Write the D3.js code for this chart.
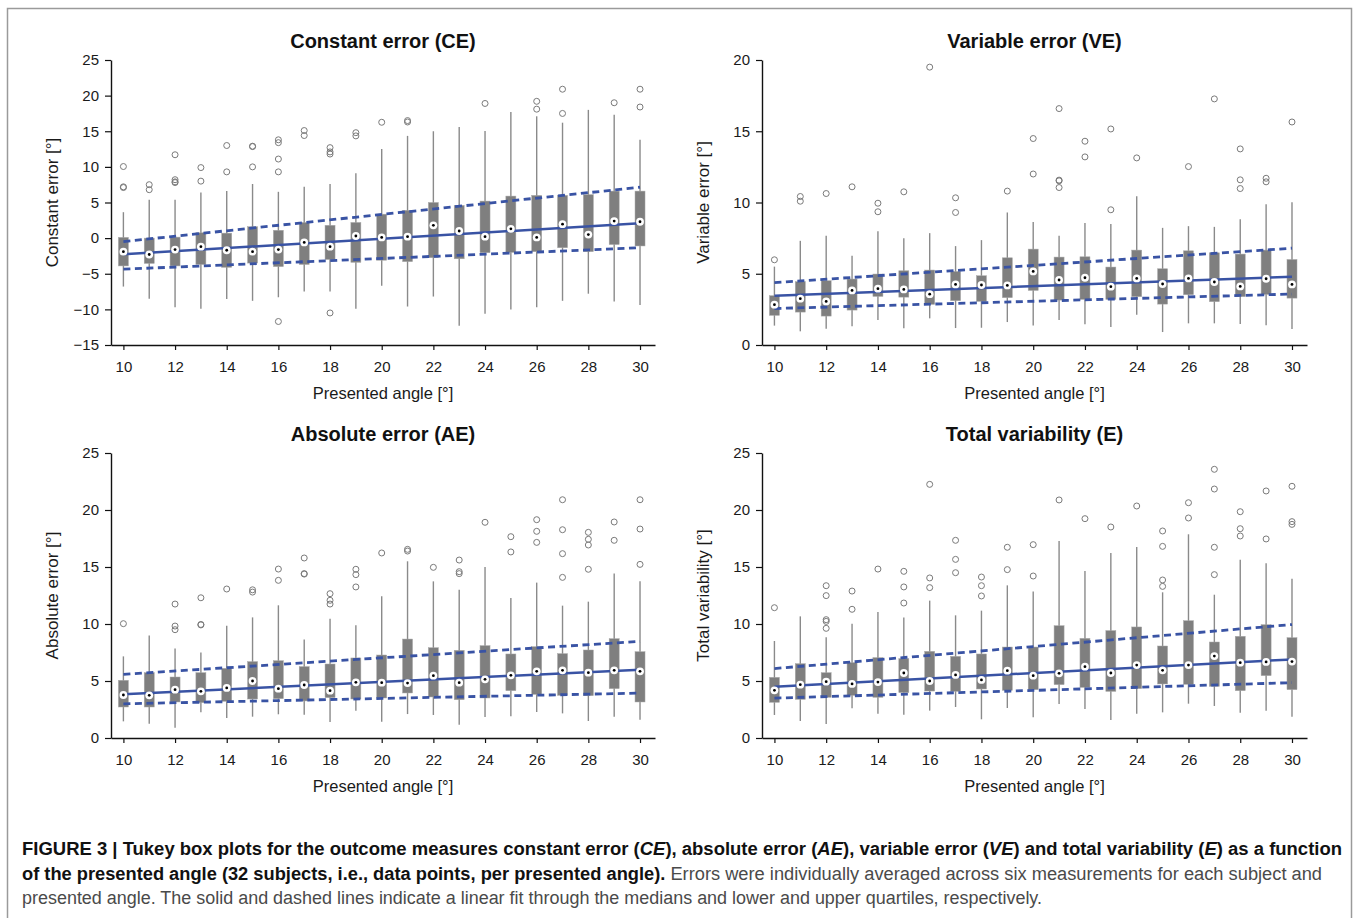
<!DOCTYPE html>
<html>
<head>
<meta charset="utf-8">
<script src="https://cdn.jsdelivr.net/npm/d3@7"></script>
<style>
body { margin: 0; background: #fff; }
svg { display: block; font-family: 'Liberation Sans', Arial, Helvetica, sans-serif; }
</style>
</head>
<body>
<svg width="1358" height="918"></svg>
<script>
// presented angles (categories) and x tick labels
const angles = [10, 11, 12, 13, 14, 15, 16, 17, 18, 19, 20, 21, 22, 23, 24, 25, 26, 27, 28, 29, 30];
const xTicks = [10, 12, 14, 16, 18, 20, 22, 24, 26, 28, 30];

// Constant error (CE)
const ceLow = [-6.8, -8.5, -9.7, -9.9, -8.55, -8.8, -8.3, -7.5, -7.5, -9.9, -6.7, -9.6, -8.2, -12.3, -10.6, -10.0, -9.7, -8.8, -7.8, -8.9, -9.4];
const ceQ1 = [-3.9, -3.55, -3.9, -3.7, -4.1, -3.5, -4.0, -3.7, -3.0, -3.4, -3.1, -3.3, -2.75, -2.9, -2.05, -2.0, -1.9, -1.35, -1.9, -0.9, -1.1];
const ceMed = [-1.9, -2.3, -1.6, -1.2, -1.7, -1.9, -1.6, -0.6, -1.2, 0.3, 0.1, 0.2, 1.8, 1.0, 0.2, 1.3, 0.1, 1.96, 0.5, 2.4, 2.3];
const ceQ3 = [0.1, 0.0, 0.14, 0.75, 0.7, 1.6, 1.1, 2.2, 1.8, 2.2, 3.36, 3.9, 5.0, 4.6, 5.2, 5.9, 6.0, 6.0, 6.1, 6.6, 6.6];
const ceHigh = [3.64, 5.4, 5.4, 6.4, 6.6, 7.6, 6.5, 7.2, 7.6, 9.1, 12.5, 14.35, 15.0, 15.6, 15.05, 17.7, 17.1, 16.2, 18.0, 17.3, 13.8];
const ceOut = [[10.05, 7.2, 7.1], [7.5, 6.8], [11.7, 8.2, 7.9, 7.8], [9.9, 8.0], [13.0, 9.3], [12.9, 12.85, 10.0],
    [13.8, 13.4, 11.1, 9.3, -11.7], [15.1, 14.4], [12.7, 12.1, 11.8, -10.5], [14.8, 14.35], [16.26], [16.5, 16.3],
    [], [], [18.9], [], [19.2, 18.1], [20.9, 17.5], [], [19.0], [20.9, 18.4]];
const ceTicks = [-15, -10, -5, 0, 5, 10, 15, 20, 25];

// Variable error (VE)
const veLow = [1.36, 0.96, 1.14, 1.31, 1.75, 1.17, 1.87, 1.19, 1.21, 1.61, 1.36, 1.75, 1.45, 1.26, 2.13, 0.91, 1.52, 1.52, 1.47, 1.38, 1.12];
const veQ1 = [2.08, 2.31, 2.03, 2.45, 3.41, 3.36, 2.85, 3.11, 3.06, 3.32, 3.83, 3.15, 3.2, 3.2, 3.39, 2.87, 3.53, 3.04, 3.39, 3.55, 3.29];
const veMed = [2.83, 3.25, 3.06, 3.83, 3.95, 3.9, 3.57, 4.25, 4.21, 4.18, 5.16, 4.56, 4.72, 4.09, 4.67, 4.28, 4.67, 4.42, 4.11, 4.65, 4.25];
const veQ3 = [3.46, 4.44, 4.51, 4.63, 4.98, 5.21, 5.26, 5.16, 4.86, 6.12, 6.73, 6.17, 6.19, 5.47, 6.66, 5.35, 6.61, 6.47, 6.38, 6.66, 6.0];
const veHigh = [5.5, 7.31, 7.66, 6.26, 7.99, 7.5, 7.85, 6.94, 7.36, 9.3, 8.64, 7.66, 8.57, 8.5, 10.44, 8.22, 8.34, 8.29, 8.83, 9.88, 10.02];
const veOut = [[5.98], [10.42, 10.09], [10.63], [11.1], [9.95, 9.35], [10.75], [19.5], [10.33, 9.3], [], [10.8],
    [14.49, 12.0], [16.59, 11.57, 11.52, 11.05], [14.3, 13.2], [15.16, 9.49], [13.13], [], [12.52], [17.27],
    [13.76, 11.59, 10.98], [11.7, 11.45], [15.65]];
const veTicks = [0, 5, 10, 15, 20];

// Absolute error (AE)
const aeLow = [1.46, 1.26, 0.91, 2.25, 1.75, 1.87, 2.08, 2.05, 1.4, 2.4, 1.43, 2.1, 2.02, 1.17, 1.84, 1.9, 2.28, 2.16, 1.49, 1.87, 1.61];
const aeQ1 = [2.72, 2.72, 3.16, 3.1, 3.22, 3.42, 3.45, 3.25, 3.54, 3.42, 3.51, 3.95, 3.6, 3.36, 3.51, 4.15, 3.83, 3.74, 3.71, 4.33, 3.16];
const aeMed = [3.77, 3.74, 4.24, 4.09, 4.39, 5.0, 4.33, 4.65, 4.15, 4.88, 4.85, 4.82, 5.47, 4.85, 5.15, 5.5, 5.85, 5.94, 5.73, 5.94, 5.85];
const aeQ3 = [5.06, 5.73, 5.35, 5.73, 6.11, 6.7, 6.78, 6.26, 6.49, 7.02, 7.28, 8.68, 7.92, 7.69, 8.1, 7.37, 8.01, 7.4, 7.72, 8.71, 7.57];
const aeHigh = [7.16, 9.0, 7.84, 7.51, 9.85, 10.58, 11.64, 8.65, 10.47, 9.88, 12.43, 15.5, 13.74, 13.01, 15.0, 12.28, 13.63, 11.61, 11.96, 14.44, 13.74];
const aeOut = [[10.03], [], [11.75, 9.82, 9.5], [12.3, 9.96, 9.92], [13.07], [13.0, 12.8], [14.82, 13.83],
    [15.79, 14.42, 14.38], [12.66, 12.08, 11.75], [14.8, 14.33, 13.25], [16.23], [16.55, 16.4], [14.97],
    [15.61, 14.59, 14.42], [18.92], [17.66, 16.32], [19.15, 18.13, 17.16], [20.9, 18.27, 16.17, 14.09],
    [18.04, 17.43, 16.93, 14.8], [18.95, 17.34], [20.9, 18.33, 15.23]];
const aeTicks = [0, 5, 10, 15, 20, 25];

// Total variability (E)
const eLow = [2.02, 1.49, 1.23, 2.6, 2.13, 2.05, 2.4, 2.72, 1.64, 2.63, 1.81, 2.98, 2.54, 1.58, 2.13, 2.25, 3.01, 2.81, 2.22, 2.4, 1.87];
const eQ1 = [3.13, 3.39, 3.57, 3.74, 3.57, 3.98, 4.12, 4.09, 4.3, 4.18, 4.24, 4.68, 4.44, 4.09, 4.33, 4.74, 4.71, 4.53, 4.15, 5.47, 4.24];
const eMed = [4.18, 4.68, 4.94, 4.74, 4.91, 5.7, 5.0, 5.53, 5.09, 5.91, 5.47, 5.67, 6.26, 5.7, 6.4, 5.94, 6.4, 7.19, 6.61, 6.67, 6.7];
const eQ3 = [5.32, 6.52, 5.73, 6.61, 7.05, 6.96, 7.6, 7.16, 7.37, 7.98, 7.98, 9.85, 8.74, 9.42, 9.74, 8.07, 10.29, 8.42, 8.92, 9.94, 8.8];
const eHigh = [8.51, 10.67, 8.83, 10.03, 11.05, 10.58, 12.05, 10.76, 11.17, 13.39, 12.84, 17.28, 14.65, 16.23, 16.75, 12.78, 17.87, 12.57, 15.64, 15.32, 13.98];
const eOut = [[11.43], [], [13.36, 12.49, 10.38, 10.23, 9.62], [12.89, 11.29], [14.82], [14.62, 13.25, 11.84],
    [22.25, 14.04, 13.19], [17.34, 15.67, 14.5], [14.12, 13.36, 12.46], [16.73, 14.77], [16.96, 14.21], [20.88],
    [19.24], [18.51], [20.35], [18.16, 16.81, 13.86, 13.3], [20.64, 19.3], [23.57, 21.84, 16.73, 14.33],
    [19.85, 18.36, 17.72], [21.67, 17.46], [22.08, 18.98, 18.74]];
const eTicks = [0, 5, 10, 15, 20, 25];

const blue = '#3953a4';
const svg = d3.select('svg');

// frame round the figure
svg.append('rect').
    attr('x', 7.5).
    attr('y', 8.5).
    attr('width', 1344).
    attr('height', 940).
    attr('fill', 'none').
    attr('stroke', '#9a9a9a').
    attr('stroke-width', 1.5);

// least squares fit, returns a function of x
const linFit = (xs, ys) => {
    const mx = d3.mean(xs);
    const my = d3.mean(ys);
    let num = 0;
    let den = 0;
    xs.forEach((v, i) => {
        num += (v - mx) * (ys[i] - my);
        den += (v - mx) * (v - mx);
    });
    const b = num / den;
    return v => my + b * (v - mx);
}

const drawPanel = (p) => {
    const x = d3.scaleLinear().domain([9.52, 30.58]).range([p.left, p.right]);
    const y = d3.scaleLinear().domain(p.domain).range([p.bottom, p.top]);
    const g = svg.append('g');

    const xAxis = g.append('g').
        attr('transform', 'translate(0,' + p.bottom + ')').
        call(d3.axisBottom(x).tickValues(xTicks).tickSize(5).tickSizeOuter(0).tickPadding(11).tickFormat(d3.format('d')));
    const yAxis = g.append('g').
        attr('transform', 'translate(' + p.left + ',0)').
        call(d3.axisLeft(y).tickValues(p.ticks).tickSize(6).tickSizeOuter(0).tickPadding(6));
    [xAxis, yAxis].forEach(a => {
        a.attr('font-size', 15).attr('font-family', null);
        a.select('.domain').attr('stroke', '#111').attr('stroke-width', 1.4);
        a.selectAll('.tick line').attr('stroke', '#111').attr('stroke-width', 1.2);
        a.selectAll('.tick text').attr('fill', '#1a1a1a');
    });

    const boxes = angles.map((a, i) => ({
        a: a, low: p.low[i], q1: p.q1[i], med: p.med[i], q3: p.q3[i], high: p.high[i], out: p.out[i]
    }));

    // whiskers
    g.selectAll('.whisker').data(boxes).enter().append('line').
        attr('x1', d => x(d.a)).
        attr('x2', d => x(d.a)).
        attr('y1', d => y(d.low)).
        attr('y2', d => y(d.high)).
        attr('stroke', '#8a8a8a').
        attr('stroke-width', 1.4);

    // boxes
    g.selectAll('.box').data(boxes).enter().append('rect').
        attr('x', d => x(d.a) - 5).
        attr('y', d => y(d.q3)).
        attr('width', 10).
        attr('height', d => y(d.q1) - y(d.q3)).
        attr('fill', '#7f7f7f').
        attr('stroke', '#a8a8a8').
        attr('stroke-width', 0.5);

    // outliers
    const outs = [];
    boxes.forEach(d => d.out.forEach(v => outs.push({ a: d.a, v: v })));
    g.selectAll('.outlier').data(outs).enter().append('circle').
        attr('cx', d => x(d.a)).
        attr('cy', d => y(d.v)).
        attr('r', 3).
        attr('fill', 'none').
        attr('stroke', '#7a7a7a').
        attr('stroke-width', 1);

    // linear fits through q1, median, q3
    const line = d3.line().x(d => x(d[0])).y(d => y(d[1]));
    [[p.q3, '7,4.5'], [p.q1, '7,4.5'], [p.med, null]].forEach(f => {
        const fit = linFit(angles, f[0]);
        g.append('path').
            attr('d', line([[10, fit(10)], [30, fit(30)]])).
            attr('fill', 'none').
            attr('stroke', blue).
            attr('stroke-width', f[1] ? 2.8 : 2.5).
            attr('stroke-dasharray', f[1]);
    });

    // median markers
    g.selectAll('.medOuter').data(boxes).enter().append('circle').
        attr('cx', d => x(d.a)).
        attr('cy', d => y(d.med)).
        attr('r', 3.9).
        attr('fill', '#fff');
    g.selectAll('.medInner').data(boxes).enter().append('circle').
        attr('cx', d => x(d.a)).
        attr('cy', d => y(d.med)).
        attr('r', 1.4).
        attr('fill', '#000');

    // texts
    const cx = (p.left + p.right) / 2;
    g.append('text').
        attr('x', cx).
        attr('y', p.top - 12.5).
        attr('text-anchor', 'middle').
        attr('font-size', 20).
        attr('font-weight', 'bold').
        attr('fill', '#111').
        text(p.title);
    g.append('text').
        attr('x', cx).
        attr('y', p.bottom + 54).
        attr('text-anchor', 'middle').
        attr('font-size', 16.5).
        attr('fill', '#1a1a1a').
        text('Presented angle [°]');
    g.append('text').
        attr('transform', 'translate(' + (p.left - 59) + ',' + ((p.top + p.bottom) / 2) + ') rotate(-90)').
        attr('dy', '0.35em').
        attr('text-anchor', 'middle').
        attr('font-size', 17).
        attr('fill', '#1a1a1a').
        text(p.yLabel);
}

const panels = [
    { title: 'Constant error (CE)', yLabel: 'Constant error [°]', domain: [-15, 25], ticks: ceTicks,
        low: ceLow, q1: ceQ1, med: ceMed, q3: ceQ3, high: ceHigh, out: ceOut, left: 111, right: 655, top: 60, bottom: 345 },
    { title: 'Variable error (VE)', yLabel: 'Variable error [°]', domain: [0, 20], ticks: veTicks,
        low: veLow, q1: veQ1, med: veMed, q3: veQ3, high: veHigh, out: veOut, left: 762, right: 1307, top: 60, bottom: 345 },
    { title: 'Absolute error (AE)', yLabel: 'Absolute error [°]', domain: [0, 25], ticks: aeTicks,
        low: aeLow, q1: aeQ1, med: aeMed, q3: aeQ3, high: aeHigh, out: aeOut, left: 111, right: 655, top: 453, bottom: 738 },
    { title: 'Total variability (E)', yLabel: 'Total variability [°]', domain: [0, 25], ticks: eTicks,
        low: eLow, q1: eQ1, med: eMed, q3: eQ3, high: eHigh, out: eOut, left: 762, right: 1307, top: 453, bottom: 738 }
];

panels.forEach(drawPanel);

// caption
const captionLines = [
    { y: 855, len: 1320, parts: [
        ['FIGURE 3 | Tukey box plots for the outcome measures constant error (', 'b'], ['CE', 'bi'],
        ['), absolute error (', 'b'], ['AE', 'bi'], ['), variable error (', 'b'], ['VE', 'bi'],
        [') and total variability (', 'b'], ['E', 'bi'], [') as a function', 'b']] },
    { y: 879.5, len: 1300, parts: [
        ['of the presented angle (32 subjects, i.e., data points, per presented angle).', 'b'],
        [' Errors were individually averaged across six measurements for each subject and', 'r']] },
    { y: 904, len: 1020, parts: [
        ['presented angle. The solid and dashed lines indicate a linear fit through the medians and lower and upper quartiles, respectively.', 'r']] }
];

captionLines.forEach(l => {
    const t = svg.append('text').
        attr('x', 22).
        attr('y', l.y).
        attr('font-size', 18).
        attr('textLength', l.len).
        attr('lengthAdjust', 'spacingAndGlyphs').
        attr('xml:space', 'preserve');
    l.parts.forEach(pt => {
        t.append('tspan').
            attr('font-weight', pt[1] == 'r' ? 'normal' : 'bold').
            attr('font-style', pt[1] == 'bi' ? 'italic' : 'normal').
            attr('fill', pt[1] == 'r' ? '#4a4a4a' : '#111').
            text(pt[0]);
    });
});
</script>
</body>
</html>
